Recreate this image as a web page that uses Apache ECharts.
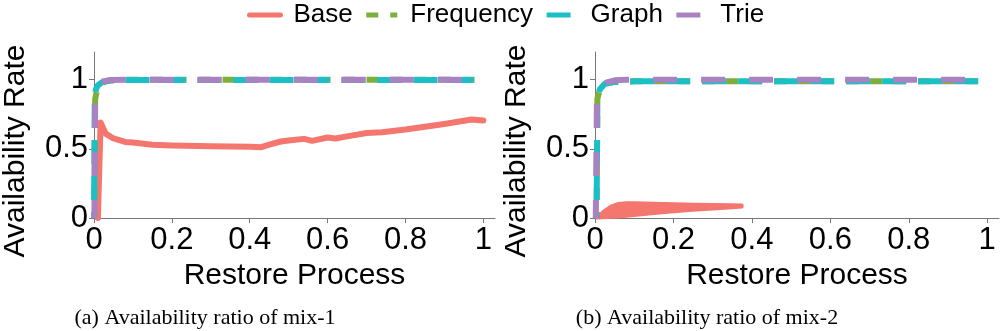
<!DOCTYPE html>
<html>
<head>
<meta charset="utf-8">
<title>Availability ratio of mix-1 / mix-2</title>
<script src="https://cdn.jsdelivr.net/npm/echarts@6/dist/echarts.min.js"></script>
<style>
  html, body { margin: 0; padding: 0; background: #fff; }
  #chart { width: 1000px; height: 331px; }
</style>
</head>
<body>
<div id="chart"></div>
<script>
// --- tick labels ---
const xTicks = [0, 0.2, 0.4, 0.6, 0.8, 1]
const yTicks = [0, 0.5, 1]

// --- (a) mix-1 ---
const mix1BaseX = [0.01, 0.013, 0.017, 0.022, 0.03, 0.05, 0.08, 0.1, 0.15, 0.2, 0.3, 0.4, 0.43, 0.45, 0.48, 0.5, 0.54, 0.56, 0.6, 0.62, 0.65, 0.7, 0.74, 0.8, 0.85, 0.9, 0.97, 1.0]
const mix1BaseY = [0, 0.3, 0.69, 0.66, 0.61, 0.575, 0.55, 0.545, 0.53, 0.524, 0.518, 0.515, 0.512, 0.53, 0.553, 0.56, 0.572, 0.558, 0.582, 0.575, 0.59, 0.615, 0.62, 0.64, 0.66, 0.68, 0.712, 0.705]
const mix1FreqX = [0.001, 0.003, 0.008, 0.015, 0.03, 0.05, 0.1, 1.0]
const mix1FreqY = [0, 0.86, 0.93, 0.965, 0.988, 0.996, 1.0, 1.0]
const mix1GraphX = [0, 0.002, 0.005, 0.01, 0.02, 0.04, 0.06, 1.0]
const mix1GraphY = [0, 0.88, 0.93, 0.96, 0.98, 0.995, 0.998, 0.998]
const mix1TrieX = [0.001, 0.003, 0.008, 0.02, 0.04, 0.1, 1.0]
const mix1TrieY = [0, 0.85, 0.94, 0.985, 0.997, 1.0, 1.0]

// --- (b) mix-2 ---
// Base is a dense band: lower and upper edge
const mix2BaseX = [0.005, 0.01, 0.02, 0.04, 0.06, 0.08, 0.1, 0.15, 0.2, 0.25, 0.3, 0.35, 0.375]
const mix2BaseLow = [0, 0, 0.002, 0.005, 0.008, 0.012, 0.018, 0.032, 0.046, 0.056, 0.065, 0.074, 0.079]
const mix2BaseHigh = [0, 0.015, 0.045, 0.085, 0.105, 0.11, 0.111, 0.107, 0.103, 0.1, 0.098, 0.096, 0.094]
const mix2FreqX = [0.004, 0.006, 0.012, 0.025, 0.05, 0.1, 1.0]
const mix2FreqY = [0, 0.86, 0.93, 0.97, 0.985, 0.988, 0.988]
const mix2GraphX = [0.004, 0.006, 0.012, 0.025, 0.05, 0.1, 1.0]
const mix2GraphY = [0, 0.85, 0.93, 0.97, 0.984, 0.988, 0.988]
const mix2TrieX = [0.002, 0.005, 0.015, 0.03, 0.05, 0.08, 1.0]
const mix2TrieY = [0, 0.88, 0.95, 0.98, 0.995, 1.0, 1.0]

// --- colours ---
const COLORS = {
  Base: '#F4766E',
  Frequency: '#7DAF3C',
  Graph: '#1CBFC6',
  Trie: '#A982C1'
}

const zip = (xs, ys) => xs.map((x, i) => [x, ys[i]])

const FONT = 'Liberation Sans'

const makeXAxis = (gridIndex) => ({
  type: 'value',
  gridIndex,
  min: 0,
  max: 1.03,
  name: 'Restore Process',
  nameLocation: 'middle',
  nameGap: 39,
  nameTextStyle: { color: '#000', fontSize: 30, fontFamily: FONT },
  axisLine: { lineStyle: { color: '#777', width: 1 } },
  axisTick: { customValues: xTicks, length: 5, lineStyle: { color: '#777' } },
  axisLabel: {
    customValues: xTicks,
    color: '#000',
    fontSize: 31,
    fontFamily: FONT,
    margin: 7,
    formatter: v => String(v)
  },
  splitLine: { show: false }
})

const makeYAxis = (gridIndex) => ({
  type: 'value',
  gridIndex,
  min: 0,
  max: 1.2,
  name: 'Availability Rate',
  nameLocation: 'middle',
  nameGap: 63,
  // right padding pushes the rotated text a little down
  nameTextStyle: { color: '#000', fontSize: 30, fontFamily: FONT, padding: [0, 32, 0, 0] },
  axisLine: { show: true, lineStyle: { color: '#777', width: 1 } },
  axisTick: { show: true, customValues: yTicks, length: 5, lineStyle: { color: '#777' } },
  axisLabel: {
    customValues: yTicks,
    color: '#000',
    fontSize: 31,
    fontFamily: FONT,
    margin: 6,
    formatter: v => String(v)
  },
  splitLine: { show: false }
})

// dashed "method" lines share a style per name
const DASH = {
  Frequency: [12, 12],
  Graph: [24, 12],
  Trie: [24, 24]
}
const DASH_OFFSET = 54

const methodLine = (name, data, idx) => ({
  name,
  type: 'line',
  xAxisIndex: idx,
  yAxisIndex: idx,
  data,
  symbol: 'none',
  color: COLORS[name],
  lineStyle: {
    color: COLORS[name],
    width: 6,
    type: DASH[name],
    dashOffset: DASH_OFFSET,
    cap: 'butt'
  },
  z: 3
})

const chart = echarts.init(document.getElementById('chart'), null, { renderer: 'canvas' })

const option = {
  animation: false,
  backgroundColor: '#fff',
  legend: {
    top: 2,
    left: 247,
    padding: 0,
    itemWidth: 31,
    itemHeight: 14,
    itemGap: 11,
    itemStyle: { opacity: 0 },
    lineStyle: { width: 5, dashOffset: 0 },
    textStyle: { color: '#000', fontSize: 26, fontFamily: FONT, padding: [0, 0, 0, 8] },
    data: ['Base', 'Frequency', 'Graph', 'Trie']
  },
  grid: [
    { left: 91, top: 52, width: 404, height: 166 },
    { left: 595, top: 52, width: 404, height: 166 }
  ],
  xAxis: [makeXAxis(0), makeXAxis(1)],
  yAxis: [makeYAxis(0), makeYAxis(1)],
  graphic: [
    {
      type: 'text',
      x: 205,
      y: 318,
      style: {
        text: '(a) Availability ratio of mix-1',
        align: 'center',
        verticalAlign: 'middle',
        font: '22px "Liberation Serif"',
        fill: '#000'
      }
    },
    {
      type: 'text',
      x: 707,
      y: 318,
      style: {
        text: '(b) Availability ratio of mix-2',
        align: 'center',
        verticalAlign: 'middle',
        font: '22px "Liberation Serif"',
        fill: '#000'
      }
    }
  ],
  series: [
    // (a)
    {
      name: 'Base',
      type: 'line',
      xAxisIndex: 0,
      yAxisIndex: 0,
      data: zip(mix1BaseX, mix1BaseY),
      symbol: 'none',
      color: COLORS.Base,
      lineStyle: { color: COLORS.Base, width: 6, cap: 'round', join: 'round' },
      z: 2
    },
    methodLine('Frequency', zip(mix1FreqX, mix1FreqY), 0),
    methodLine('Graph', zip(mix1GraphX, mix1GraphY), 0),
    methodLine('Trie', zip(mix1TrieX, mix1TrieY), 0),
    // (b) base: filled band between lower and upper edge
    {
      name: 'Base',
      type: 'custom',
      xAxisIndex: 1,
      yAxisIndex: 1,
      data: zip(mix2BaseX, mix2BaseHigh),
      renderItem: (params, api) => {
        if (params.dataIndex !== 0) return null
        const upper = mix2BaseX.map((x, i) => api.coord([x, mix2BaseHigh[i]]))
        const lower = mix2BaseX.map((x, i) => api.coord([x, mix2BaseLow[i]])).reverse()
        return {
          type: 'polygon',
          shape: { points: upper.concat(lower) },
          style: { fill: COLORS.Base, stroke: COLORS.Base, lineWidth: 3, lineJoin: 'round' }
        }
      },
      z: 2
    },
    methodLine('Frequency', zip(mix2FreqX, mix2FreqY), 1),
    methodLine('Graph', zip(mix2GraphX, mix2GraphY), 1),
    methodLine('Trie', zip(mix2TrieX, mix2TrieY), 1)
  ]
}

chart.setOption(option)

window.addEventListener('resize', () => chart.resize())
</script>
</body>
</html>
